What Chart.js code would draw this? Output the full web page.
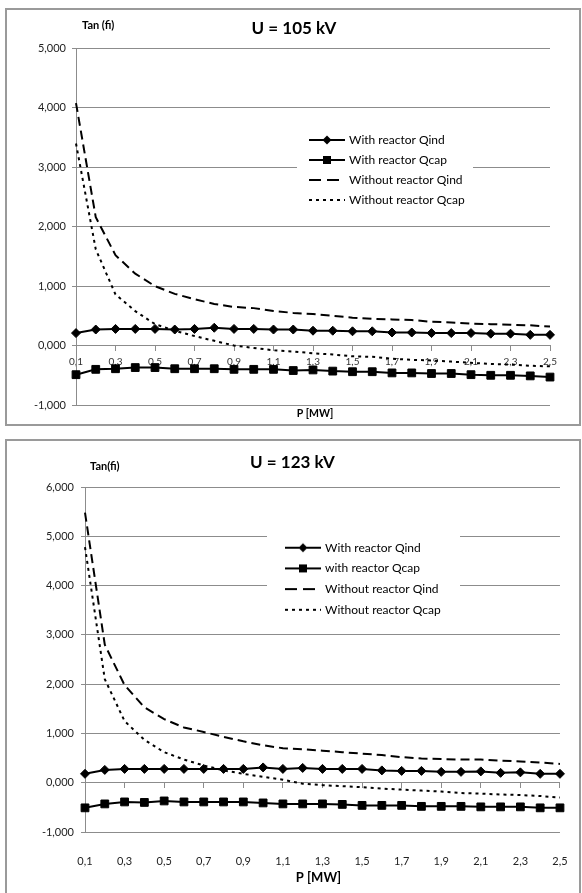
<!DOCTYPE html>
<html><head><meta charset="utf-8">
<script src="https://cdn.jsdelivr.net/npm/chart.js@4.4.1/dist/chart.umd.min.js"></script>
<style>
html,body{margin:0;padding:0;background:#fff;width:582px;height:893px;overflow:hidden;}
.frame{position:absolute;border:2px solid #9a9a9a;box-sizing:border-box;}
canvas{position:absolute;left:0;}
</style></head><body>
<div class="frame" style="left:5px;top:8px;width:576px;height:418px"></div>
<div class="frame" style="left:5px;top:439px;width:576px;height:460px"></div>
<canvas id="c1" width="582" height="432" style="top:0"></canvas>
<canvas id="c2" width="582" height="461" style="top:432px"></canvas>
<script>
// ---- data ----
const categories = ['0,1','0,2','0,3','0,4','0,5','0,6','0,7','0,8','0,9','1,0','1,1','1,2','1,3','1,4','1,5','1,6','1,7','1,8','1,9','2,0','2,1','2,2','2,3','2,4','2,5'];
const seriesNames105 = ['With reactor Qind','With reactor Qcap','Without reactor Qind','Without reactor Qcap'];
const seriesNames123 = ['With reactor Qind','with reactor Qcap','Without reactor Qind','Without reactor Qcap'];

const withQind105    = [0.21,0.27,0.28,0.28,0.28,0.27,0.28,0.30,0.28,0.28,0.27,0.27,0.25,0.25,0.24,0.24,0.22,0.22,0.21,0.21,0.21,0.20,0.20,0.18,0.18];
const withQcap105    = [-0.49,-0.40,-0.39,-0.37,-0.37,-0.39,-0.39,-0.39,-0.40,-0.40,-0.40,-0.42,-0.41,-0.43,-0.44,-0.44,-0.46,-0.46,-0.47,-0.47,-0.49,-0.50,-0.50,-0.51,-0.53];
const withoutQind105 = [4.08,2.16,1.52,1.21,1.00,0.87,0.78,0.70,0.65,0.63,0.58,0.55,0.53,0.50,0.47,0.45,0.44,0.43,0.40,0.39,0.37,0.36,0.35,0.34,0.32];
const withoutQcap105 = [3.40,1.62,0.86,0.58,0.36,0.25,0.16,0.08,0.00,-0.04,-0.08,-0.10,-0.13,-0.15,-0.18,-0.19,-0.22,-0.24,-0.25,-0.27,-0.29,-0.31,-0.32,-0.34,-0.35];

const withQind123    = [0.18,0.26,0.28,0.28,0.28,0.28,0.28,0.28,0.28,0.31,0.28,0.30,0.28,0.28,0.28,0.25,0.24,0.24,0.22,0.22,0.23,0.20,0.21,0.18,0.18];
const withQcap123    = [-0.51,-0.43,-0.39,-0.40,-0.37,-0.39,-0.39,-0.39,-0.39,-0.41,-0.43,-0.43,-0.43,-0.44,-0.46,-0.46,-0.46,-0.48,-0.48,-0.48,-0.49,-0.49,-0.49,-0.51,-0.51];
const withoutQind123 = [5.48,2.80,1.98,1.53,1.29,1.12,1.03,0.93,0.84,0.76,0.70,0.68,0.65,0.62,0.59,0.56,0.52,0.49,0.48,0.47,0.47,0.45,0.43,0.41,0.38];
const withoutQcap123 = [4.78,2.10,1.25,0.87,0.62,0.47,0.35,0.25,0.18,0.12,0.06,-0.02,-0.05,-0.07,-0.09,-0.12,-0.14,-0.16,-0.18,-0.21,-0.22,-0.24,-0.25,-0.27,-0.30];

const title105 = 'U = 105 kV';
const title123 = 'U = 123 kV';
const yTitle105 = 'Tan (fi)';
const yTitle123 = 'Tan(fi)';
const xTitle = 'P [MW]';

// ---- styling ----
Chart.defaults.font.family = 'Lato, "DejaVu Sans", sans-serif';
Chart.defaults.color = '#222';
const GRID = '#8c8c8c';
const CLEAR = 'rgba(0,0,0,0)';

function makeIcon(kind) {
  const c = document.createElement('canvas'); c.width = 36; c.height = 12;
  const g = c.getContext('2d');
  g.strokeStyle = '#000'; g.lineWidth = 2;
  if (kind === 'dash') g.setLineDash([12, 6]);
  if (kind === 'dot') g.setLineDash([3, 4]);
  g.beginPath(); g.moveTo(0, 6); g.lineTo(36, 6); g.stroke();
  g.setLineDash([]); g.fillStyle = '#000';
  if (kind === 'diamond') { g.beginPath(); g.moveTo(18, 1.5); g.lineTo(22.5, 6); g.lineTo(18, 10.5); g.lineTo(13.5, 6); g.closePath(); g.fill(); }
  if (kind === 'square') g.fillRect(14, 2, 8, 8);
  return c;
}
const legendIcons = [makeIcon('diamond'), makeIcon('square'), makeIcon('dash'), makeIcon('dot')];

const axisTitles = {
  id: 'axisTitles',
  afterDraw(chart, args, o) {
    const {ctx, chartArea} = chart;
    ctx.save();
    ctx.fillStyle = '#000';
    ctx.textBaseline = 'middle';
    ctx.font = 'bold ' + o.ySize + 'px Lato';
    ctx.textAlign = 'left';
    ctx.fillText(o.yText, chartArea.left + o.yDx, chartArea.top + o.yDy);
    ctx.font = 'bold ' + o.xSize + 'px Lato';
    ctx.textAlign = 'center';
    ctx.fillText(o.xText, (chartArea.left + chartArea.right) / 2 + o.xDx, chartArea.bottom + o.xDy);
    ctx.restore();
  }
};

const legendPlace = {
  id: 'legendPlace',
  afterLayout(chart, args, o) {
    const lg = chart.legend; if (!lg) return;
    lg.left = o.x; lg.top = o.y; lg.width = 200; lg.height = 120;
    lg.right = o.x + 200; lg.bottom = o.y + 120;
    if (!lg._bgPatched) {
      const orig = lg.draw;
      const box = o.box;
      lg.draw = function(...a) {
        const c = chart.ctx; c.save(); c.fillStyle = '#fff';
        c.fillRect(box[0], box[1], box[2], box[3]); c.restore();
        return orig.apply(this, a);
      };
      lg._bgPatched = true;
    }
  }
};

function datasets(names, a, b, c, d) {
  return [
    {label: names[0], data: a, borderColor:'#000', backgroundColor:'#000', borderWidth:2, pointStyle:'rectRot', pointRadius:4.5, pointBorderWidth:1, pointBackgroundColor:'#000', pointBorderColor:'#000', tension:0},
    {label: names[1], data: b, borderColor:'#000', backgroundColor:'#000', borderWidth:2, pointStyle:'rect', pointRadius:5.5, pointBorderWidth:1, pointBackgroundColor:'#000', pointBorderColor:'#000', tension:0},
    {label: names[2], data: c, borderColor:'#000', backgroundColor:'#000', borderWidth:2, borderDash:[9,5], pointRadius:0, tension:0},
    {label: names[3], data: d, borderColor:'#000', backgroundColor:'#000', borderWidth:2, borderDash:[3,4], pointRadius:0, tension:0}
  ];
}

const legendLabels = (fontSize, pad) => ({
  usePointStyle: true, pointStyleWidth: 32, boxHeight: fontSize, padding: pad,
  font: {size: fontSize}, color: '#000',
  generateLabels(chart) {
    const items = Chart.defaults.plugins.legend.labels.generateLabels(chart);
    items.forEach((it, i) => { it.pointStyle = legendIcons[i]; });
    return items;
  }
});

const yFmt = v => Number(v).toFixed(3).replace('.', ',');
const xLab = (v, i) => (i % 2 === 0 ? categories[i] : '');
const tickCol = ctx => (ctx.index % 2 === 0 ? GRID : CLEAR);
// invisible right-hand spacer axis (reserves the empty margin right of the plot)
const spacer = w => ({type: 'linear', position: 'right', display: true,
  grid: {display: false}, border: {display: false}, ticks: {display: false},
  afterFit: s => { s.width = w; }});

// ---- chart 1 : 105 kV ----
new Chart(document.getElementById('c1'), {
  type: 'line',
  data: {labels: categories, datasets: datasets(seriesNames105, withQind105, withQcap105, withoutQind105, withoutQcap105)},
  options: {
    responsive: false, animation: false, devicePixelRatio: 1,
    layout: {padding: {left: 6, right: 0, top: 10, bottom: 27}},
    plugins: {
      title: {display: true, text: title105, color: '#000', font: {size: 17, weight: 'bold'}, padding: {top: 8, bottom: 10}},
      legend: {position: 'chartArea', align: 'start', labels: legendLabels(12, 8)},
      tooltip: {enabled: false},
      axisTitles: {yText: yTitle105, ySize: 11, yDx: 6, yDy: -23, xText: xTitle, xSize: 10.5, xDx: 2, xDy: 9},
      legendPlace: {x: 303, y: 126, box: [297, 122, 176, 90]}
    },
    scales: {
      x: {type: 'category', position: {y: 0}, offset: false,
        grid: {drawOnChartArea: false, drawTicks: true, tickLength: 5, color: GRID, tickColor: tickCol},
        border: {display: true, color: GRID},
        ticks: {autoSkip: false, maxRotation: 0, minRotation: 0, padding: 5, font: {size: 10}, color: '#333', callback: xLab},
        afterFit: s => { s.height = 0; }},
      y: {min: -1, max: 5,
        ticks: {stepSize: 1, padding: 6, font: {size: 11}, color: '#222', callback: yFmt},
        grid: {color: GRID, tickLength: 4},
        border: {color: GRID},
        afterFit: s => { s.width = 70; }},
      yR: spacer(32)
    }
  },
  plugins: [axisTitles, legendPlace]
});

// ---- chart 2 : 123 kV ----
new Chart(document.getElementById('c2'), {
  type: 'line',
  data: {labels: categories, datasets: datasets(seriesNames123, withQind123, withQcap123, withoutQind123, withoutQcap123)},
  options: {
    responsive: false, animation: false, devicePixelRatio: 1,
    layout: {padding: {left: 3, right: 0, top: 12, bottom: 0}},
    plugins: {
      title: {display: true, text: title123, color: '#000', font: {size: 17, weight: 'bold'}, padding: {top: 8.8, bottom: 13.8}},
      legend: {position: 'chartArea', align: 'start', labels: legendLabels(12, 8.7)},
      tooltip: {enabled: false},
      axisTitles: {yText: yTitle123, ySize: 11, yDx: 5, yDy: -21, xText: xTitle, xSize: 13, xDx: -4, xDy: 46},
      legendPlace: {x: 278.3, y: 101, box: [267, 96, 193, 96]}
    },
    scales: {
      x: {type: 'category', position: 'bottom', offset: false,
        grid: {display: false},
        border: {display: false},
        ticks: {autoSkip: false, maxRotation: 0, minRotation: 0, padding: 14.4, font: {size: 11}, color: '#222', callback: xLab},
        afterFit: s => { s.height = 61; }},
      x2: {type: 'category', position: {y: 0}, offset: false,
        grid: {drawOnChartArea: false, drawTicks: true, tickLength: 5, color: GRID, tickColor: tickCol},
        border: {display: true, color: GRID},
        ticks: {display: false, autoSkip: false},
        afterFit: s => { s.height = 0; }},
      y: {min: -1, max: 6,
        ticks: {stepSize: 1, padding: 7, font: {size: 11}, color: '#222', callback: yFmt},
        grid: {color: GRID, tickLength: 4},
        border: {color: GRID},
        afterFit: s => { s.width = 82; }},
      yR: spacer(19)
    }
  },
  plugins: [axisTitles, legendPlace]
});
</script>
</body></html>
